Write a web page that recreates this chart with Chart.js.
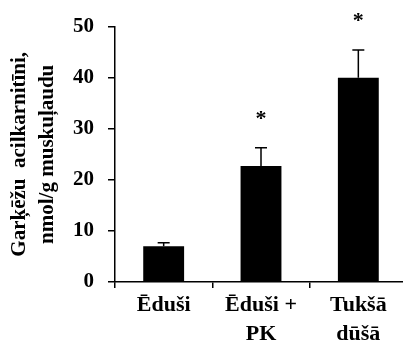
<!DOCTYPE html>
<html>
<head>
<meta charset="utf-8">
<script src="https://cdn.jsdelivr.net/npm/chart.js@4/dist/chart.umd.min.js"></script>
<style>
  html, body { margin: 0; padding: 0; overflow: hidden; background: #fff; }
</style>
</head>
<body>
<canvas id="chart" width="407" height="346"></canvas>
<script>
// data
let categories = [['Ēduši'], ['Ēduši +', 'PK'], ['Tukšā', 'dūšā']];
let means = [7.0, 22.7, 40.0];
let errUp = [0.7, 3.6, 5.4];
let starred = [false, true, true];
let yTitle = ['Garķēžu  acilkarnitīni,', 'nmol/g muskuļaudu'];
let yMin = 0, yMax = 50, yStep = 10;

const serif = "'Liberation Serif', 'Times New Roman', serif";

// error bars + asterisks, placed with the chart's own scales
const errorBars = {
  id: 'errorBars',
  afterDatasetsDraw(chart) {
    let c = chart.ctx;
    let y = chart.scales.y;
    let bars = chart.getDatasetMeta(0).data;
    c.save();
    c.strokeStyle = '#000';
    c.lineWidth = 1.5;
    c.fillStyle = '#000';
    c.font = 'bold 22px ' + serif;
    c.textAlign = 'center';
    c.textBaseline = 'alphabetic';
    bars.forEach((bar, i) => {
      let top = y.getPixelForValue(means[i] + errUp[i]);
      let base = y.getPixelForValue(means[i]);
      c.beginPath();
      c.moveTo(bar.x, base);
      c.lineTo(bar.x, top);
      c.moveTo(bar.x - 6, top);
      c.lineTo(bar.x + 6, top);
      c.stroke();
      if (starred[i]) c.fillText('*', bar.x, top - 23);
    });
    c.restore();
  }
};

let ctx = document.getElementById('chart').getContext('2d');

let chart = new Chart(ctx, {
  type: 'bar',
  data: {
    labels: categories,
    datasets: [{
      data: means,
      backgroundColor: '#000',
      borderWidth: 0,
      categoryPercentage: 1,
      barPercentage: 0.42
    }]
  },
  options: {
    animation: false,
    responsive: false,
    layout: { padding: { top: 21, right: 0, left: 0, bottom: 0 } },
    plugins: { legend: { display: false }, tooltip: { enabled: false } },
    scales: {
      x: {
        offset: true,
        grid: { offset: true, drawOnChartArea: false, drawTicks: true, tickLength: 6, color: '#000', lineWidth: 1.5 },
        border: { color: '#000', width: 1.5 },
        ticks: {
          color: '#000',
          padding: 3,
          maxRotation: 0,
          font: { family: serif, size: 22, weight: 'bold', lineHeight: 1.3 }
        },
        afterFit(s) { s.height = 64; }
      },
      y: {
        min: yMin,
        max: yMax,
        ticks: {
          stepSize: yStep,
          color: '#000',
          padding: 14,
          font: { family: serif, size: 21, weight: 'bold' }
        },
        grid: { drawOnChartArea: false, drawTicks: true, tickLength: 7, color: '#000', lineWidth: 1.5 },
        border: { color: '#000', width: 1.5 },
        title: {
          display: true,
          text: yTitle,
          color: '#000',
          padding: { top: 5, bottom: 0 },
          font: { family: serif, size: 21, weight: 'bold', lineHeight: 1.35 }
        },
        afterFit(s) { s.width = 115; }
      }
    }
  },
  plugins: [errorBars]
});
</script>
</body>
</html>
